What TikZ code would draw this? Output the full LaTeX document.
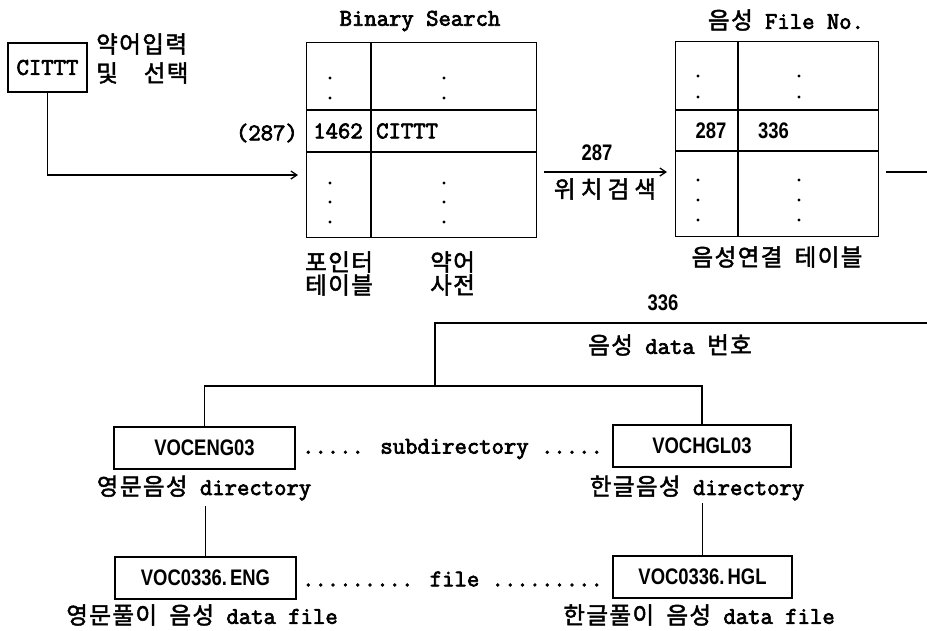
\documentclass[tikz,border=0pt]{standalone}
\usepackage{fontspec}
\setmainfont{Latin Modern Mono}[FakeBold=3]
\newfontfamily\krfont{Noto Sans CJK KR}[Scale=0.98,LetterSpace=6,FakeBold=2]
\newfontfamily\krwide{Noto Sans CJK KR}[Scale=0.98,LetterSpace=22,FakeBold=2]
\newfontfamily\condfont{Liberation Sans}[FakeStretch=0.82]
\newcommand{\kor}[1]{{\krfont #1}}
\usetikzlibrary{arrows.meta}
\begin{document}
\begin{tikzpicture}[x=1pt,y=-1pt,
  every node/.style={inner sep=0pt, font=\fontsize{24}{28}\selectfont},
  ln/.style={line width=1.3pt},
  vbox/.style={draw, ln, minimum height=42pt},
  cond/.style={font=\fontsize{22.5}{26}\selectfont\condfont\bfseries},
  arr/.style={ln, -{Straight Barb[length=6pt,width=8pt]}},
  dotc/.style={circle, fill, inner sep=0pt, minimum size=3.2pt}
]
\useasboundingbox (0,0) rectangle (927,630);

% input
\node[draw, ln, minimum width=79pt, minimum height=49pt] (in) at (47.5,67.5) {CITTT};
\node[anchor=west] (inlab1) at (96,44) {\kor{약어입력}};
\node[anchor=west] (inlab2) at (96,73) {\kor{및}\hspace{26pt}\kor{선택}};

% table 1
\node[draw, ln, minimum width=230pt, minimum height=195pt, anchor=north west] (t1) at (306,42) {};
\draw[ln] (t1.west |- 0,110) -- (t1.east |- 0,110);
\draw[ln] (t1.west |- 0,152) -- (t1.east |- 0,152);
\draw[ln] (t1.north -| 371,0) -- (t1.south -| 371,0);
\node (bs) at (420,21) {Binary Search};
\node (p1462) at (338,131) {1462};
\node[anchor=west] (dictE) at (376,131) {CITTT};
\foreach \x in {330,444} {
  \foreach \y in {78,98,183,202,222} { \node[dotc] at (\x,\y) {}; }
}
\node[anchor=west] (pt1) at (305,262) {\kor{포인터}};
\node[anchor=west] (pt2) at (305,285) {\kor{테이블}};
\node[anchor=west] (dc1) at (430,262) {\kor{약어}};
\node[anchor=west] (dc2) at (430,285) {\kor{사전}};
\node[anchor=east] (q287) at (298,133) {(287)};

\draw[arr, shorten >=8pt] (in.south) |- (t1.west |- 0,175);

% table 2
\node[draw, ln, minimum width=203pt, minimum height=195pt, anchor=north west] (t2) at (675,41) {};
\draw[ln] (t2.west |- 0,110) -- (t2.east |- 0,110);
\draw[ln] (t2.west |- 0,151) -- (t2.east |- 0,151);
\draw[ln] (t2.north -| 738,0) -- (t2.south -| 738,0);
\node (fn) at (786,20) {\kor{음성} File No.};
\node[cond] (n287) at (711,131) {287};
\node[cond, anchor=west] (n336) at (758,131) {336};
\foreach \x in {698,799} {
  \foreach \y in {76,97,180,200,220} { \node[dotc] at (\x,\y) {}; }
}
\node (lt) at (777,257) {\kor{음성연결} \kor{테이블}};

\draw[arr, shorten <=7pt, shorten >=8pt] (t1.east |- 0,172) -- (t2.west |- 0,172);
\node[cond] (l287) at (597,153) {287};
\node (lsrch) at (605,189) {{\krwide 위치검색}};

\coordinate (e1) at (927,172);
\draw[ln, shorten <=7pt] (t2.east |- 0,172) -- (e1);

% lower part
\node[cond] (l336) at (663,303) {336};
\node (ldata) at (670,345) {\kor{음성} data \kor{번호}};
\coordinate (e2) at (927,323);
\coordinate (j1) at (435,323);
\coordinate (j2) at (435,386);

\node[vbox, minimum width=181pt, cond] (eng) at (204.5,448) {VOCENG03};
\node[vbox, minimum width=178pt, cond] (hgl) at (702,446) {VOCHGL03};
\node (sub) at (452.5,449) {..... subdirectory .....};
\node (dirE) at (204,488) {\kor{영문음성} directory};
\node (dirH) at (697,488) {\kor{한글음성} directory};

\node[vbox, minimum width=181pt, cond] (fileE) at (205.5,578) {VOC0336.\hspace{3pt}ENG};
\node[vbox, minimum width=179pt, cond] (fileH) at (702.5,577) {VOC0336.\hspace{3pt}HGL};
\node (fl) at (452.5,579) {......... file .........};
\node (fE) at (202,615) {\kor{영문풀이} \kor{음성} data file};
\node (fH) at (699,615) {\kor{한글풀이} \kor{음성} data file};

\draw[ln] (e2) -- (j1) -- (j2);
\draw[ln] (eng.north) -- (eng.north |- j2) -- (hgl.north |- j2) -- (hgl.north);
\draw[ln] (fileE.north |- 0,506) -- (fileE.north);
\draw[ln] (fileH.north |- 0,503) -- (fileH.north);
\end{tikzpicture}
\end{document}
